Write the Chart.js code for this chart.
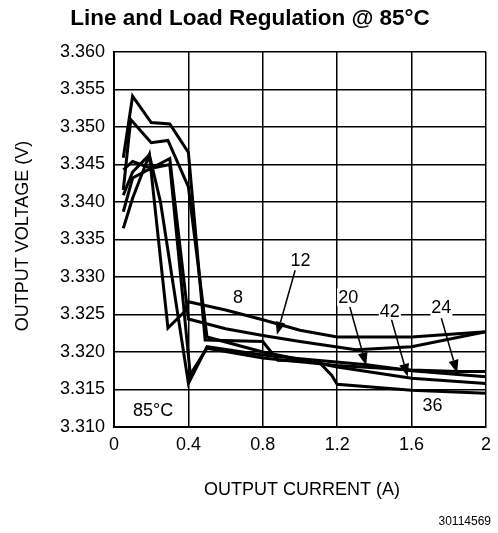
<!DOCTYPE html>
<html>
<head>
<meta charset="utf-8">
<script src="https://cdn.jsdelivr.net/npm/chart.js@4.4.1/dist/chart.umd.min.js"></script>
<style>
    html, body { margin: 0; padding: 0; background: #fff; }
    .wrap { width: 498px; height: 533px; }
</style>
</head>
<body>
<div class="wrap"><canvas id="regChart"></canvas></div>
<script>
// Eksen işaretleri
const xTicks = [0, 0.4, 0.8, 1.2, 1.6, 2];
const yTicks = [3.310, 3.315, 3.320, 3.325, 3.330, 3.335, 3.340, 3.345, 3.350, 3.355, 3.360];

// Giriş gerilimi (V) başına eğriler: akım (A) ve çıkış gerilimi (V)
const x8 = [0.05, 0.10, 0.19, 0.29, 0.38, 0.40, 0.60, 0.80, 1.00, 1.20, 1.60, 2.00];
const v8 = [3.3365, 3.3405, 3.3463, 3.3232, 3.3254, 3.3267, 3.3256, 3.3243, 3.3229, 3.3220, 3.3220, 3.3227];

const x12 = [0.05, 0.10, 0.20, 0.30, 0.40, 0.60, 0.80, 1.00, 1.30, 1.60, 2.00];
const v12 = [3.3443, 3.3454, 3.3445, 3.3458, 3.3244, 3.3231, 3.3222, 3.3214, 3.3203, 3.3207, 3.3227];

const x20 = [0.05, 0.10, 0.19, 0.25, 0.40, 0.50, 0.80, 1.00, 1.36, 1.60, 2.00];
const v20 = [3.3409, 3.3440, 3.3463, 3.3400, 3.3158, 3.3207, 3.3196, 3.3191, 3.3183, 3.3175, 3.3167];

const x24 = [0.05, 0.10, 0.20, 0.30, 0.41, 0.50, 0.80, 1.20, 1.60, 1.85, 2.00];
const v24 = [3.3387, 3.3432, 3.3445, 3.3450, 3.3170, 3.3205, 3.3192, 3.3182, 3.3176, 3.3174, 3.3174];

const x36 = [0.05, 0.10, 0.20, 0.30, 0.40, 0.49, 0.80, 0.88, 1.10, 1.17, 1.20, 1.60, 2.00];
const v36 = [3.3459, 3.3541, 3.3506, 3.3504, 3.3466, 3.3216, 3.3214, 3.3189, 3.3187, 3.3169, 3.3157, 3.3149, 3.3145];

const x42 = [0.05, 0.09, 0.20, 0.29, 0.40, 0.50, 0.80, 1.20, 1.60, 2.00];
const v42 = [3.3416, 3.3510, 3.3479, 3.3482, 3.3420, 3.3220, 3.3200, 3.3180, 3.3165, 3.3158];

const curves = [
    ['8 V', x8, v8], ['12 V', x12, v12], ['20 V', x20, v20],
    ['24 V', x24, v24], ['36 V', x36, v36], ['42 V', x42, v42]
];

// Etiketler ve oklar (veri koordinatlarında)
const labels = [
    { text: '8', x: 0.667, y: 3.3273 },
    { text: '12', x: 1.003, y: 3.3323 },
    { text: '20', x: 1.259, y: 3.3273 },
    { text: '42', x: 1.483, y: 3.3255 },
    { text: '24', x: 1.760, y: 3.3260 },
    { text: '36', x: 1.712, y: 3.3129 },
    { text: '85°C', x: 0.210, y: 3.3123 }
];
const arrows = [
    { x0: 0.974, y0: 3.3309, x1: 0.876, y1: 3.3223 },
    { x0: 1.268, y0: 3.3260, x1: 1.356, y1: 3.3182 },
    { x0: 1.490, y0: 3.3245, x1: 1.579, y1: 3.3167 },
    { x0: 1.760, y0: 3.3245, x1: 1.845, y1: 3.3172 }
];

const FONT = '"Liberation Sans", Arial, Helvetica, sans-serif';

const decorPlugin = {
    id: 'decor',
    afterDatasetsDraw(chart) {
        const ctx = chart.ctx;
        const xs = chart.scales.x, ys = chart.scales.y;
        ctx.save();
        // oklar
        ctx.strokeStyle = '#000';
        ctx.fillStyle = '#000';
        ctx.lineWidth = 1.5;
        arrows.forEach(a => {
            const px0 = xs.getPixelForValue(a.x0), py0 = ys.getPixelForValue(a.y0);
            const px1 = xs.getPixelForValue(a.x1), py1 = ys.getPixelForValue(a.y1);
            const ang = Math.atan2(py1 - py0, px1 - px0);
            const len = 13, half = 5;
            const bx = px1 - len * Math.cos(ang), by = py1 - len * Math.sin(ang);
            ctx.beginPath();
            ctx.moveTo(px0, py0);
            ctx.lineTo(bx, by);
            ctx.stroke();
            ctx.beginPath();
            ctx.moveTo(px1, py1);
            ctx.lineTo(bx + half * Math.sin(ang), by - half * Math.cos(ang));
            ctx.lineTo(bx - half * Math.sin(ang), by + half * Math.cos(ang));
            ctx.closePath();
            ctx.fill();
        });
        // etiketler
        ctx.font = '18px ' + FONT;
        ctx.textAlign = 'center';
        ctx.textBaseline = 'middle';
        labels.forEach(l => {
            const px = xs.getPixelForValue(l.x), py = ys.getPixelForValue(l.y);
            const w = ctx.measureText(l.text).width;
            ctx.fillStyle = '#fff';
            ctx.fillRect(px - w / 2 - 1, py - 9, w + 2, 18);
            ctx.fillStyle = '#000';
            ctx.fillText(l.text, px, py + 1);
        });
        ctx.restore();
    },
    afterDraw(chart) {
        const ctx = chart.ctx;
        ctx.save();
        ctx.fillStyle = '#000';
        ctx.textAlign = 'center';
        ctx.textBaseline = 'middle';
        ctx.font = 'bold 22.5px ' + FONT;
        ctx.fillText('Line and Load Regulation @ 85°C', 250, 19);
        ctx.font = '18px ' + FONT;
        ctx.fillText('OUTPUT CURRENT (A)', 302, 490);
        ctx.font = '12px ' + FONT;
        ctx.textAlign = 'right';
        ctx.fillText('30114569', 491, 522);
        ctx.translate(23, 236);
        ctx.rotate(-Math.PI / 2);
        ctx.textAlign = 'center';
        ctx.font = '18px ' + FONT;
        ctx.fillText('OUTPUT VOLTAGE (V)', 0, 0);
        ctx.restore();
    }
};

const regChart = new Chart(
    document.getElementById('regChart'),
    {
        type: 'line',
        data: {
            datasets: curves.map(c => ({
                label: c[0],
                data: c[1].map((x, i) => ({ x: x, y: c[2][i] })),
                borderColor: '#000',
                borderWidth: 3,
                pointRadius: 0,
                fill: false,
                tension: 0
            }))
        },
        options: {
            responsive: true,
            maintainAspectRatio: false,
            animation: false,
            layout: { padding: { top: 52, right: 9, left: 0, bottom: 0 } },
            plugins: {
                legend: { display: false },
                tooltip: { enabled: false }
            },
            scales: {
                x: {
                    type: 'linear',
                    min: 0,
                    max: 2,
                    afterBuildTicks: s => { s.ticks = xTicks.map(v => ({ value: v })); },
                    afterFit: s => { s.height = 106; },
                    grid: { color: '#000', lineWidth: 1.5, drawTicks: false },
                    border: { color: '#000', width: 2 },
                    ticks: {
                        color: '#000',
                        font: { family: FONT, size: 18 },
                        padding: 7,
                        maxRotation: 0,
                        callback: v => String(v)
                    }
                },
                y: {
                    type: 'linear',
                    min: 3.31,
                    max: 3.36,
                    afterBuildTicks: s => { s.ticks = yTicks.map(v => ({ value: v })); },
                    afterFit: s => { s.width = 114; },
                    grid: { color: '#000', lineWidth: 1.5, drawTicks: false },
                    border: { color: '#000', width: 2 },
                    ticks: {
                        color: '#000',
                        font: { family: FONT, size: 18 },
                        padding: 9,
                        callback: v => v.toFixed(3)
                    }
                }
            }
        },
        plugins: [decorPlugin]
    }
);
</script>
</body>
</html>
